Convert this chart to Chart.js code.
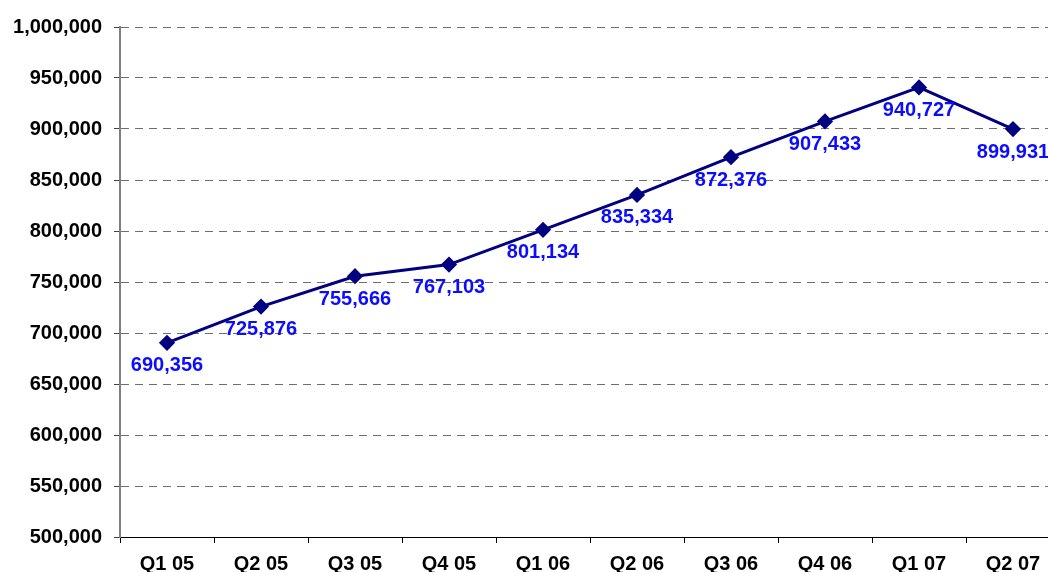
<!DOCTYPE html>
<html><head><meta charset="utf-8">
<script src="https://cdn.jsdelivr.net/npm/chart.js@4.4.1/dist/chart.umd.min.js"></script>
<style>
html,body{margin:0;padding:0;background:#fff;overflow:hidden;}
#wrap{position:relative;width:1072px;height:572px;}
</style></head><body>
<div id="wrap"><canvas id="c" width="1072" height="572"></canvas></div>
<script>
const categories = ['Q1 05','Q2 05','Q3 05','Q4 05','Q1 06','Q2 06','Q3 06','Q4 06','Q1 07','Q2 07'];
const values = [690356, 725876, 755666, 767103, 801134, 835334, 872376, 907433, 940727, 899931];
const yMin = 500000, yMax = 1000000, yStep = 50000;

const fmt = v => v.toLocaleString('en-US');

const labelPlugin = {
  id: 'pointLabels',
  afterDatasetsDraw(chart) {
    const ctx = chart.ctx;
    const meta = chart.getDatasetMeta(0);
    ctx.save();
    ctx.font = 'bold 20px "Liberation Sans", Arial, sans-serif';
    ctx.fillStyle = '#0c0cff';
    ctx.textAlign = 'center';
    ctx.textBaseline = 'middle';
    meta.data.forEach((pt, i) => {
      ctx.fillText(fmt(values[i]), pt.x, pt.y + 23);
    });
    ctx.restore();
  }
};

new Chart(document.getElementById('c'), {
  type: 'line',
  data: {
    labels: categories,
    datasets: [{
      data: values,
      borderColor: '#000080',
      backgroundColor: '#000080',
      borderWidth: 3,
      pointStyle: 'rectRot',
      pointRadius: 6,
      pointBackgroundColor: '#000080',
      pointBorderColor: '#000080',
      tension: 0,
      clip: false
    }]
  },
  options: {
    responsive: false,
    animation: false,
    layout: { padding: { top: 27, left: 0, right: 12, bottom: 0 } },
    plugins: { legend: { display: false }, tooltip: { enabled: false } },
    scales: {
      x: {
        offset: true,
        grid: { offset: true, drawOnChartArea: false, drawTicks: true, tickLength: 6, color: '#000' },
        border: { color: '#000', width: 1 },
        ticks: { color: '#000', padding: 9, font: { family: '"Liberation Sans", Arial, sans-serif', size: 20, weight: 'bold' }, maxRotation: 0, autoSkip: false },
        afterFit(s) { s.height = 35; }
      },
      y: {
        min: yMin, max: yMax,
        grid: { color: '#6e6e6e', lineWidth: 1, tickBorderDash: [], tickColor: '#444', tickLength: 6 },
        border: { color: '#808080', width: 2, dash: [8, 6] },
        ticks: { stepSize: yStep, color: '#000', padding: 12, callback: v => fmt(v), font: { family: '"Liberation Sans", Arial, sans-serif', size: 20, weight: 'bold' } },
        afterFit(s) { s.width = 120; }
      }
    }
  },
  plugins: [labelPlugin]
});
</script>
</body></html>
